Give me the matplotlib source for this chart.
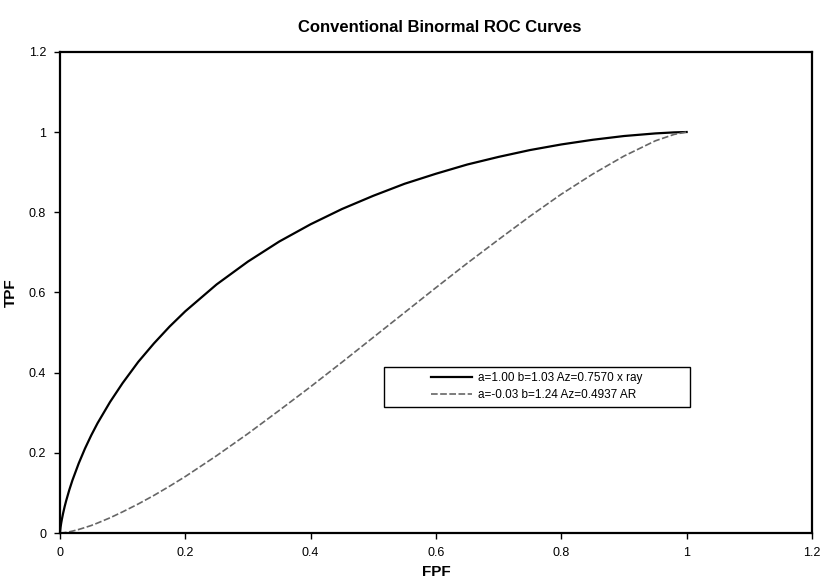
import matplotlib
matplotlib.use("Agg")
import matplotlib.pyplot as plt
from matplotlib.patches import Rectangle

plt.rcParams['font.family'] = ['Liberation Sans', 'DejaVu Sans']

# points
fpf = [0, 0.001, 0.002, 0.003, 0.005, 0.0075, 0.01, 0.015, 0.02, 0.03, 0.04, 0.05, 0.06,
       0.08, 0.1, 0.125, 0.15, 0.175, 0.2, 0.25, 0.3, 0.35, 0.4, 0.45, 0.5, 0.55, 0.6,
       0.65, 0.7, 0.75, 0.8, 0.85, 0.9, 0.95, 0.98, 1.0]
tpf_xray = [0, 0.0145, 0.0248, 0.0336, 0.049, 0.066, 0.081, 0.108, 0.132, 0.174, 0.211,
            0.244, 0.274, 0.327, 0.374, 0.427, 0.473, 0.515, 0.553, 0.620, 0.677, 0.727,
            0.770, 0.808, 0.841, 0.871, 0.896, 0.919, 0.938, 0.955, 0.969, 0.9806, 0.990,
            0.9965, 0.9991, 1.0]
tpf_ar = [0, 0.00006, 0.00016, 0.0003, 0.0006, 0.0012, 0.0018, 0.0033, 0.005, 0.0091,
          0.0139, 0.019, 0.0251, 0.0382, 0.053, 0.0727, 0.094, 0.117, 0.141, 0.193, 0.248,
          0.306, 0.365, 0.426, 0.488, 0.550, 0.612, 0.673, 0.732, 0.790, 0.845, 0.895,
          0.940, 0.978, 0.994, 1.0]

label_xray = "a=1.00 b=1.03 Az=0.7570 x ray"
label_ar = "a=-0.03 b=1.24 Az=0.4937 AR"
ticks = [0, 0.2, 0.4, 0.6, 0.8, 1, 1.2]
tick_labels = ["0", "0.2", "0.4", "0.6", "0.8", "1", "1.2"]

fig = plt.figure(figsize=(8.21, 5.82), dpi=100)
ax = fig.add_axes([0.073, 0.084, 0.916, 0.827])

ax.plot(fpf, tpf_xray, color='black', lw=1.6, label=label_xray)
ax.plot(fpf, tpf_ar, color='#666666', lw=1.2, ls=(0, (4, 1.5)), label=label_ar)

ax.set_xlim(0, 1.2)
ax.set_ylim(0, 1.2)
ax.set_xticks(ticks)
ax.set_xticklabels(tick_labels)
ax.set_yticks(ticks)
ax.set_yticklabels(tick_labels)
ax.tick_params(direction='out', length=4, width=1, labelsize=9, pad=6)
for s in ax.spines.values():
    s.set_linewidth(1.6)

ax.set_xlabel("FPF", fontsize=11, fontweight='bold', labelpad=4)
ax.set_ylabel("TPF", fontsize=11, fontweight='bold', labelpad=8)
fig.suptitle("Conventional Binormal ROC Curves", fontsize=12, fontweight='bold',
             x=0.535, y=0.965)

# legend box (drawn separately so the entries sit centred in it)
ax.add_patch(Rectangle((0.431, 0.263), 0.407, 0.082, transform=ax.transAxes,
                       fill=False, edgecolor='black', lw=1.0, zorder=4))
ax.legend(loc='center', bbox_to_anchor=(0.634, 0.304), fontsize=8.5, frameon=False,
          handlelength=3.5, handletextpad=0.5, labelspacing=0.4, borderpad=0)

fig.savefig("out.png", dpi=100)
